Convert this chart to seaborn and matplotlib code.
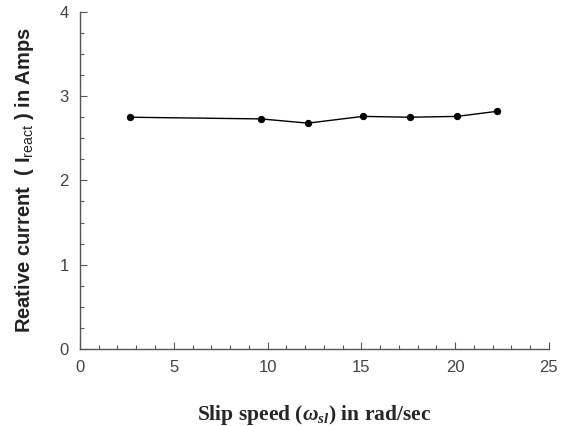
import matplotlib
matplotlib.use("Agg")
import matplotlib.pyplot as plt
import seaborn as sns
import pandas as pd
from matplotlib.ticker import MultipleLocator

slip_speed = [2.67, 9.65, 12.15, 15.08, 17.59, 20.1, 22.23]
reactive_current = [2.75, 2.73, 2.68, 2.76, 2.75, 2.76, 2.82]

x_ticks = [0, 5, 10, 15, 20, 25]
y_ticks = [0, 1, 2, 3, 4]

sns.set_style("white")
plt.rcParams['font.family'] = ['Liberation Sans', 'DejaVu Sans']
plt.rcParams['mathtext.fontset'] = 'custom'
plt.rcParams['mathtext.rm'] = 'Liberation Sans'
plt.rcParams['mathtext.it'] = 'Liberation Serif:italic:bold'
plt.rcParams['mathtext.bf'] = 'Liberation Serif:bold'

df = pd.DataFrame({"x": slip_speed, "y": reactive_current})

fig = plt.figure(figsize=(5.63, 4.26), dpi=100)
ax = fig.add_axes([0.142, 0.181, 0.833, 0.791])
sns.lineplot(data=df, x="x", y="y", ax=ax, color="black", marker="o",
             markersize=4.5, linewidth=1.0, markeredgecolor="black")

ax.set_xlim(0, 25)
ax.set_ylim(0, 4)
ax.set_xticks(x_ticks)
ax.set_yticks(y_ticks)
ax.xaxis.set_minor_locator(MultipleLocator(1))
ax.yaxis.set_minor_locator(MultipleLocator(0.25))
ax.tick_params(axis="both", which="both", direction="in", color="#555555",
               labelcolor="#444444", labelsize=12, bottom=True, left=True,
               top=False, right=False)
ax.tick_params(which="major", length=5, width=0.8)
ax.tick_params(which="minor", length=3, width=0.8)
ax.tick_params(axis="x", pad=8)
ax.tick_params(axis="y", pad=8)
for s in ["top", "right"]:
    ax.spines[s].set_visible(False)
for s in ["left", "bottom"]:
    ax.spines[s].set_color("#555555")
    ax.spines[s].set_linewidth(1.0)

ax.set_xlabel(r"Slip speed ($\omega_{sl}$) in rad/sec", family="Liberation Serif",
              fontweight="bold", fontsize=15.5, labelpad=20)
ax.set_ylabel(r"Reative current  ( I$_{\mathrm{react}}$ ) in Amps", family="Liberation Sans",
              fontweight="bold", fontsize=14.5, labelpad=17, color="#222222")

fig.savefig("out.png", dpi=100)
